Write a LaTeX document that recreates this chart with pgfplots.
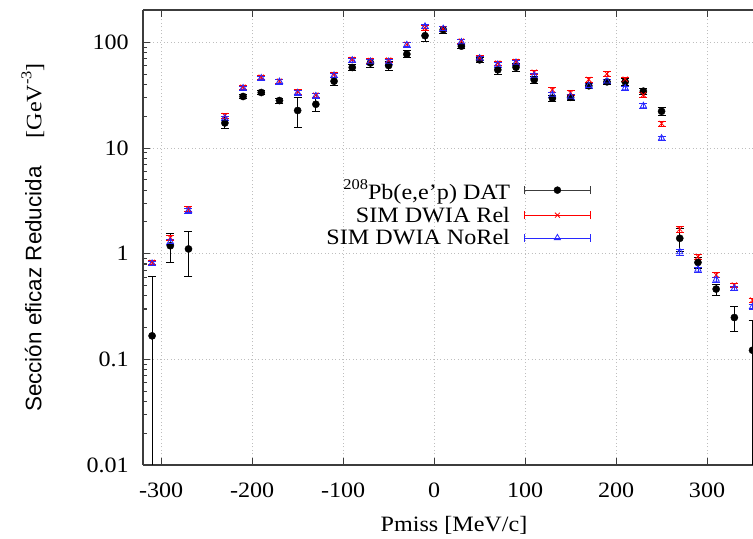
\documentclass[border=0pt]{standalone}
\usepackage{pgfplots}
\pgfplotsset{compat=1.18}
\usepackage{pgfplotstable}
\usepackage{fontspec}
\setmainfont{Liberation Serif}[FakeStretch=1.1]
\setsansfont{Liberation Sans}
\definecolor{axgray}{RGB}{60,60,60}
\definecolor{gridgray}{RGB}{190,190,190}
\definecolor{relred}{RGB}{255,0,0}
\definecolor{norelblue}{RGB}{40,40,255}
\newcommand{\fs}{\fontsize{22}{26}\selectfont}
\newcommand{\supr}[1]{\raisebox{10bp}{\fontsize{15}{15}\selectfont #1}}

\pgfplotsset{
  datlegend/.style={legend image code/.code={
    \draw[axgray, line width=0.9bp] (0bp,0bp) -- (66bp,0bp) (0bp,-4bp) -- (0bp,4bp) (66bp,-4bp) -- (66bp,4bp);
    \draw[black, fill=black] plot[only marks, mark=*, mark size=3.5bp] coordinates {(33bp,0bp)};}},
  rellegend/.style={legend image code/.code={
    \draw[relred, line width=0.6bp] (0bp,0bp) -- (66bp,0bp) (0bp,-4bp) -- (0bp,4bp) (66bp,-4bp) -- (66bp,4bp);
    \draw[relred, line width=0.8bp] plot[only marks, mark=x, mark size=3.5bp] coordinates {(33bp,0bp)};}},
  norellegend/.style={legend image code/.code={
    \draw[norelblue, line width=0.6bp] (0bp,0bp) -- (66bp,0bp) (0bp,-4bp) -- (0bp,4bp) (66bp,-4bp) -- (66bp,4bp);
    \draw[norelblue, line width=0.8bp, fill=white] plot[only marks, mark=triangle, mark size=3.5bp] coordinates {(33bp,0bp)};}},
}

\pgfplotstableread{
x y ep em
-310 0.167 0.44 0.166
-290 1.19 0.35 0.36
-270 1.11 0.51 0.50
-230 17.3 2.7 1.9
-210 30.8 1.5 1.5
-190 33.6 1.5 1.5
-170 28.2 1.5 1.5
-150 22.7 7.2 7.0
-130 26.0 3.9 3.7
-110 43.0 3.5 3.5
-90 58.0 4 4
-70 64.0 6 6
-50 60.5 6 6
-30 77.5 6 6
-10 116 14 14
10 132 10 10
30 92.3 5 5
50 68.5 4 4
70 55.1 5 5
90 58.3 5 5
110 44.3 3 3
130 29.7 2 2
150 30.3 2 2
170 38.9 2 2
190 42.4 2 2
210 42.4 3 3
230 34.6 2.5 2.5
250 22.3 1.8 1.8
270 1.40 0.35 0.35
290 0.827 0.1 0.1
310 0.463 0.05 0.06
330 0.249 0.066 0.067
350 0.122 0.113 0.121
}\dat

\pgfplotstableread{
x y e
-310 0.83 0.05
-290 1.42 0.05
-270 2.65 0.05
-230 20.3 0.05
-210 37.7 0.05
-190 46.9 0.05
-170 43.0 0.05
-150 34.1 0.05
-130 31.7 0.05
-110 49.7 0.05
-90 69 0.05
-70 67.5 0.05
-50 68 0.05
-30 95.7 0.05
-10 137 0.05
10 135 0.05
30 103 0.05
50 71.6 0.05
70 63.7 0.05
90 66 0.05
110 52.3 0.05
130 35.6 0.05
150 33.4 0.05
170 44.6 0.05
190 50.5 0.05
210 44.9 0.05
230 31.9 0.05
250 17.1 0.05
270 1.71 0.07
290 0.94 0.05
310 0.63 0.05
330 0.505 0.05
350 0.364 0.05
}\rel

\pgfplotstableread{
x y e
-310 0.81 0.05
-290 1.30 0.05
-270 2.56 0.05
-230 19.2 0.05
-210 37 0.05
-190 46 0.05
-170 42.6 0.05
-150 33.4 0.05
-130 31.2 0.05
-110 48.8 0.05
-90 68 0.05
-70 66 0.05
-50 66 0.05
-30 95 0.05
-10 142 0.05
10 135 0.05
30 101 0.05
50 71 0.05
70 61.9 0.05
90 64.6 0.05
110 48.7 0.05
130 32.2 0.05
150 30.8 0.05
170 39.1 0.05
190 43 0.05
210 37 0.05
230 25.1 0.05
250 12.4 0.05
270 1.04 0.07
290 0.71 0.05
310 0.57 0.05
330 0.47 0.05
350 0.315 0.05
}\norel

\begin{document}
\begin{tikzpicture}
\begin{axis}[
  scale only axis,
  width=610bp, height=455bp,
  xmin=-320, xmax=350.5,
  ymode=log, ymin=0.01, ymax=203,
  axis y line*=left,
  axis line style={axgray, line width=1.3bp},
  every tick/.style={axgray, line width=1.1bp},
  tick align=inside,
  major tick length=7bp, minor tick length=4bp,
  xtick={-300,-200,-100,0,100,200,300},
  xticklabels={-300,-200,-100,0,100,200,300},
  ytick={0.01,0.1,1,10,100},
  yticklabels={0.01,0.1,1,10,100},
  minor xtick={},
  tick label style={font=\fs, inner sep=0pt},
  xticklabel shift=18bp,
  yticklabel style={anchor=east, xshift=-14bp},
  grid=major,
  major grid style={gridgray, line width=0.6bp, dash pattern=on 1bp off 2.5bp},
  xlabel={Pmiss [MeV/c]},
  ylabel={{\fontsize{22.5}{26}\sffamily Sección eficaz Reducida}\hspace{28bp}[GeV\supr{-3}]},
  label style={font=\fs},
  xlabel style={at={(rel axis cs:0.5,0)}, anchor=center, yshift=-60bp, xshift=6bp},
  ylabel style={at={(rel axis cs:0,0.5)}, anchor=center, yshift=110bp},
  legend style={draw=none, fill=none, at={(axis cs:172.5,5.3)}, anchor=north east,
    font=\fs, inner sep=0pt, column sep=12bp, row sep=2bp},
  legend cell align=right,
  legend plot pos=right,
]
\addplot[black, only marks, mark=*, mark size=3.6bp, datlegend,
  error bars/.cd, y dir=both, y explicit,
  error bar style={black, line width=0.9bp},
  error mark options={black, mark size=4bp, line width=0.9bp, rotate=90}]
  table[x=x, y=y, y error plus=ep, y error minus=em] {\dat};
\addlegendentry{\supr{208}Pb(e,e’p) DAT}

\addplot[relred, only marks, mark=x, mark size=3.6bp, mark options={line width=0.8bp}, rellegend,
  error bars/.cd, y dir=both, y explicit relative,
  error bar style={relred, line width=0.6bp},
  error mark options={relred, mark size=4bp, line width=0.6bp, rotate=90}]
  table[x=x, y=y, y error=e] {\rel};
\addlegendentry{SIM DWIA Rel}

\addplot[norelblue, only marks, mark=triangle, mark size=3.6bp, mark options={line width=0.8bp}, norellegend,
  error bars/.cd, y dir=both, y explicit relative,
  error bar style={norelblue, line width=0.6bp},
  error mark options={norelblue, mark size=4bp, line width=0.6bp, rotate=90}]
  table[x=x, y=y, y error=e] {\norel};
\addlegendentry{SIM DWIA NoRel}
\end{axis}
\pgfresetboundingbox
\path[use as bounding box] ([xshift=-143bp,yshift=-74bp]current axis.south west) rectangle ([yshift=10bp]current axis.north east);
\end{tikzpicture}
\end{document}
